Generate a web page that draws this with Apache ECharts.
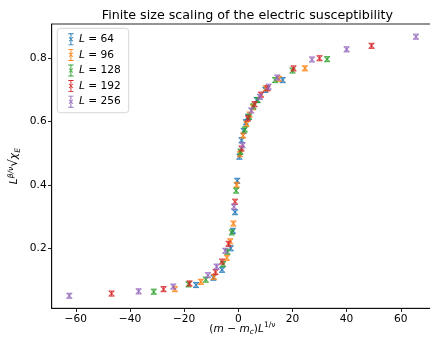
<!DOCTYPE html>
<html><head><meta charset="utf-8">
<script src="https://cdn.jsdelivr.net/npm/echarts@6/dist/echarts.min.js"></script>
<style>html,body{margin:0;padding:0;background:#fff}#c{width:430px;height:342px}</style>
</head><body><div id="c"></div>
<script>
// Series labels (system sizes)
const sizes = ['64','96','128','192','256'];
const colors = ['#1f77b4','#ff7f0e','#2ca02c','#d62728','#9467bd'];
// x = (m - m_c) L^{1/nu}, y = L^{beta/nu} sqrt(chi_E), per system size
const x64  = [-15.6,-9.2,-6.0,-2.8,-2.0,-1.2,-0.4,0.4,1.2,2.0,2.8,3.6,6.8,10.0,16.4];
const y64  = [0.084,0.107,0.132,0.200,0.255,0.314,0.413,0.489,0.541,0.570,0.598,0.615,0.668,0.700,0.731];
const x96  = [-23.4,-13.8,-9.0,-4.2,-3.0,-1.8,-0.6,0.6,1.8,3.0,4.2,5.4,10.2,15.0,24.6];
const y96  = [0.071,0.094,0.110,0.170,0.222,0.278,0.400,0.497,0.556,0.592,0.622,0.645,0.705,0.735,0.768];
const x128 = [-31.2,-18.4,-12.0,-5.6,-4.0,-2.4,-0.8,0.8,2.4,4.0,5.6,7.2,13.6,20.0,32.8];
const y128 = [0.063,0.086,0.101,0.150,0.189,0.250,0.382,0.505,0.575,0.615,0.648,0.668,0.731,0.761,0.797];
const x192 = [-46.8,-27.6,-18.0,-8.4,-6.0,-3.6,-1.2,1.2,3.6,6.0,8.4,10.8,20.4,30.0,49.2];
const y192 = [0.057,0.071,0.089,0.125,0.158,0.214,0.347,0.515,0.610,0.655,0.685,0.705,0.768,0.800,0.839];
const x256 = [-62.4,-36.8,-24.0,-11.2,-8.0,-4.8,-1.6,1.6,4.8,8.0,11.2,14.4,27.2,40.0,65.6];
const y256 = [0.050,0.064,0.079,0.115,0.142,0.192,0.331,0.525,0.635,0.678,0.710,0.739,0.796,0.828,0.868];
// symmetric error on y for each size
const yerr = [0.008,0.008,0.008,0.008,0.008];
// tick labels
const xTicks = [-60,-40,-20,0,20,40,60];
const yTicks = [0.2,0.4,0.6,0.8];

const xs = [x64,x96,x128,x192,x256];
const ys = [y64,y96,y128,y192,y256];

const FONT = 'DejaVu Sans';
const chart = echarts.init(document.getElementById('c'), null, {renderer:'canvas'});

function renderItem(params, api){
  const x = api.value(0), y = api.value(1), e = api.value(2);
  const c = api.coord([x,y]);
  const t = api.coord([x,y+e]);
  const b = api.coord([x,y-e]);
  const color = api.visual('color');
  const cw = 3.0, m = 2.4;
  const st = {stroke:color, lineWidth:1.1, opacity:0.8};
  return {type:'group', children:[
    {type:'line', shape:{x1:c[0],y1:t[1],x2:c[0],y2:b[1]}, style:st},
    {type:'line', shape:{x1:c[0]-cw,y1:t[1],x2:c[0]+cw,y2:t[1]}, style:st},
    {type:'line', shape:{x1:c[0]-cw,y1:b[1],x2:c[0]+cw,y2:b[1]}, style:st},
    {type:'line', shape:{x1:c[0]-m,y1:c[1]-m,x2:c[0]+m,y2:c[1]+m}, style:st},
    {type:'line', shape:{x1:c[0]-m,y1:c[1]+m,x2:c[0]+m,y2:c[1]-m}, style:st}
  ]};
}

const iconPath = 'path://M5.4,0H6.6V16H5.4Z M2.5,0H9.5V1.2H2.5Z M2.5,14.8H9.5V16H2.5Z M3,5.6L3.7,4.9L9,10.2L8.3,10.9Z M9,5.6L8.3,4.9L3,10.2L3.7,10.9Z';

const series = sizes.map((s,i)=>({
  type:'custom',
  name:'L='+s,
  renderItem:renderItem,
  itemStyle:{color:colors[i]},
  encode:{x:0,y:1},
  data: xs[i].map((xv,j)=>[xv, ys[i][j], yerr[i]]),
  z: 2+i
}));

const minus = v => (v<0 ? '\u2212'+Math.abs(v) : String(v));

chart.setOption({
  animation:false,
  color:colors,
  title:{
    text:'Finite size scaling of the electric susceptibility',
    left:242.4, top:4, textAlign:'center',
    textStyle:{fontFamily:FONT, fontSize:12.7, fontWeight:'normal', color:'#000'}
  },
  grid:{left:51.7, top:24, width:381.3, height:284.3, outerBoundsMode:'none', containLabel:false,
        show:true, borderColor:'#000', borderWidth:0.85, backgroundColor:'transparent'},
  legend:{
    orient:'vertical', left:57.3, top:28.3,
    padding:[5,8,5,11], itemGap:3.6, itemWidth:6, itemHeight:12, itemStyle:{borderWidth:0},
    backgroundColor:'rgba(255,255,255,0.8)', borderColor:'#cccccc', borderWidth:0.8, borderRadius:3,
    itemTextGap:17,
    data: sizes.map((s,i)=>({name:'L='+s, icon:iconPath})),
    formatter: n => '{i|L} = ' + n.split('=')[1],
    textStyle:{fontFamily:FONT, fontSize:10.6, color:'#000', rich:{i:{fontFamily:FONT, fontStyle:'italic', fontSize:10.6}}}
  },
  xAxis:{
    type:'value', min:-68.9, max:71.9,
    axisLine:{show:true, onZero:false, lineStyle:{color:'#000', width:0.85}},
    axisTick:{show:true, length:3.7, lineStyle:{color:'#000', width:0.85}, customValues:xTicks},
    axisLabel:{customValues:xTicks, formatter:minus, fontFamily:FONT, fontSize:10.6, color:'#000', margin:5},
    splitLine:{show:false},
    name:'({i|m} \u2212 {i|m}{sub|c}){i|L}{sup|1/\u03bd}', nameLocation:'middle', nameGap:13, nameMoveOverlap:false,
    nameTextStyle:{fontFamily:FONT, fontSize:10.6, color:'#000', lineHeight:15,
      rich:{i:{fontStyle:'italic', fontFamily:FONT, fontSize:10.6, lineHeight:15},
            sub:{fontStyle:'italic', fontFamily:FONT, fontSize:7.5, verticalAlign:'bottom', lineHeight:15},
            sup:{fontStyle:'normal', fontFamily:FONT, fontSize:7.5, verticalAlign:'top', lineHeight:15}}}
  },
  yAxis:{
    type:'value', min:0.0105, max:0.908,
    axisLine:{show:true, onZero:false, lineStyle:{color:'#000', width:0.85}},
    axisTick:{show:true, length:3.7, lineStyle:{color:'#000', width:0.85}, customValues:yTicks},
    axisLabel:{customValues:yTicks, formatter:v=>v.toFixed(1), fontFamily:FONT, fontSize:10.6, color:'#000', margin:5},
    splitLine:{show:false},
    name:'{i|L}{sup|\u03b2/\u03bd}{n|\u221a}{i|\u03c7}{sub|E}', nameLocation:'middle', nameGap:30, nameRotate:90, nameMoveOverlap:false,
    nameTextStyle:{fontFamily:FONT, fontSize:10.6, color:'#000', lineHeight:15,
      rich:{i:{fontStyle:'italic', fontFamily:FONT, fontSize:10.6, lineHeight:15},
            n:{fontFamily:FONT, fontSize:12, lineHeight:15},
            sub:{fontStyle:'italic', fontFamily:FONT, fontSize:7.5, verticalAlign:'bottom', lineHeight:15},
            sup:{fontStyle:'italic', fontFamily:FONT, fontSize:7.5, verticalAlign:'top', lineHeight:15}}}
  },
  series: series
});
</script></body></html>
